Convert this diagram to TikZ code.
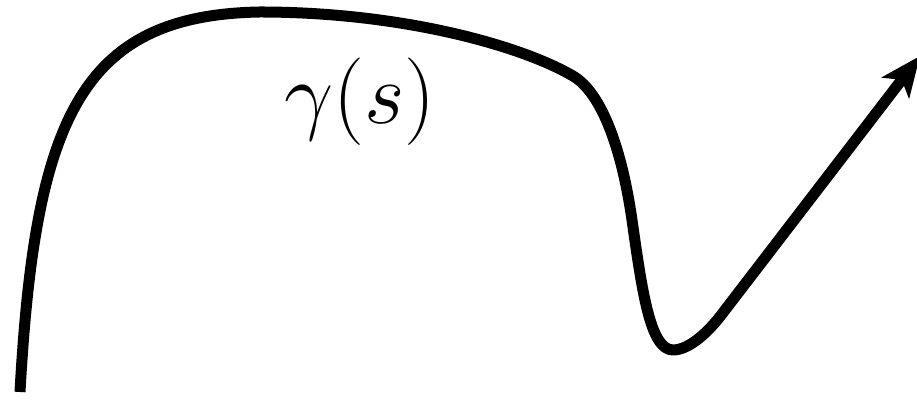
\documentclass[tikz,border=0pt]{standalone}
\usepackage{amsmath, amssymb}
\usepackage{tikz}
\usetikzlibrary{arrows.meta, positioning, calc}

\begin{document}
\begin{tikzpicture}[
    x=0.01cm, y=-0.01cm,
    curve/.style={line width=0.11cm, line join=round, line cap=butt},
    lbl/.style={font=\fontsize{24}{28}\selectfont, inner sep=0pt},
]
\useasboundingbox (0,0) rectangle (917,401);

% -- Points along the curve --
\coordinate (P0) at (20,392);
\coordinate (P1) at (260,12);
\coordinate (P2) at (573,76);
\coordinate (P3) at (632,220);
\coordinate (P4) at (673,350);
\coordinate (P5) at (722,314);
\coordinate (P6) at (920,56);

% -- Curve with arrow --
\draw[curve, -{Stealth[length=0.4cm, width=0.34cm, inset=0.1cm]}]
    (P0) .. controls (35,120) and (80,15) .. (P1)
    .. controls (400,12) and (520,45) .. (P2)
    .. controls (602,93) and (622,150) .. (P3)
    .. controls (642,290) and (650,350) .. (P4)
    .. controls (690,350) and (710,330) .. (P5)
    -- (P6);

% -- Label --
\node[lbl] (gam) at (360,102) {$\gamma(s)$};

\end{tikzpicture}
\end{document}
